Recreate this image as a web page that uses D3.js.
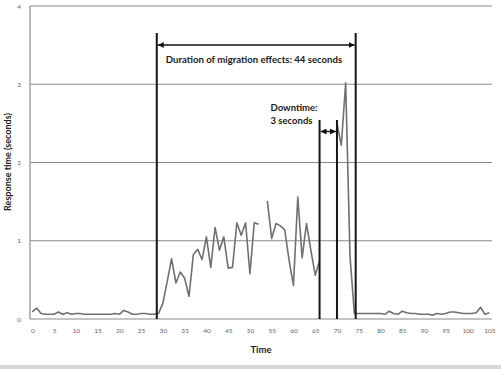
<!DOCTYPE html>
<html><head><meta charset="utf-8">
<script src="https://cdn.jsdelivr.net/npm/d3@7"></script>
<style>html,body{margin:0;padding:0;background:#fff;}svg{display:block;}</style>
</head><body>
<script>
// ---- data ----
const times = d3.range(0, 106);
const responseTime = [
 0.09,0.14,0.07,0.06,0.06,0.06,0.09,0.06,0.08,0.06,
 0.07,0.07,0.06,0.06,0.06,0.06,0.06,0.06,0.06,0.07,
 0.06,0.11,0.09,0.06,0.06,0.07,0.07,0.06,0.06,0.07,
 0.20,0.48,0.77,0.46,0.60,0.52,0.29,0.82,0.89,0.76,
 1.05,0.66,1.17,0.88,1.05,0.65,0.66,1.23,1.07,1.23,
 0.58,1.23,1.21,null,1.51,1.03,1.22,1.19,1.14,0.75,
 0.43,1.56,0.78,1.22,0.88,0.56,0.74,null,null,null,
 2.50,2.22,3.02,0.80,0.07,0.07,0.07,0.07,0.07,0.07,
 0.07,0.06,0.10,0.07,0.06,0.10,0.08,0.07,0.07,0.06,
 0.06,0.06,0.05,0.07,0.06,0.07,0.09,0.09,0.08,0.07,
 0.07,0.07,0.08,0.15,0.06,0.08
];
const xTicks = d3.range(0, 106, 5);
const yTicks = [0, 1, 2, 3, 4];
const migrationBounds = [28.6, 74.3];
const downtimeBounds = [66, 70];
const migrationLabel = "Duration of migration effects: 44 seconds";
const downtimeLabel = ["Downtime:", "3 seconds"];
const xTitle = "Time";
const yTitle = "Response time (seconds)";

// ---- layout ----
const W = 501, H = 369;
const svg = d3.select("body").append("svg").attr("width", W).attr("height", H);
const x = d3.scaleLinear().domain([0, 105]).range([32.3, 489.3]);
const y = d3.scaleLinear().domain([0, 4]).range([319, 6]);
const plotL = 30, plotR = 492;
const font = "Lato, 'Open Sans', sans-serif";

svg.append("rect").attr("x", 0).attr("y", 0).attr("width", W).attr("height", H).attr("fill", "#fff");
svg.append("rect").attr("x", 0).attr("y", 365).attr("width", W).attr("height", 4).attr("fill", "#d8d8d8");

const defs = svg.append("defs");
defs.append("marker").attr("id", "arr").attr("viewBox", "0 0 10 10")
  .attr("refX", 10).attr("refY", 5).attr("markerWidth", 6).attr("markerHeight", 6)
  .attr("markerUnits", "userSpaceOnUse").attr("orient", "auto-start-reverse")
  .append("path").attr("d", "M0,0 L10,5 L0,10 Z").attr("fill", "#111");

// gridlines
svg.append("g").selectAll("line").data(yTicks.filter(d => d > 0)).join("line")
  .attr("x1", plotL).attr("x2", plotR).attr("y1", d => y(d)).attr("y2", d => y(d))
  .attr("stroke", "#8a8a8a").attr("stroke-width", 1);
// axes lines
svg.append("line").attr("x1", plotL).attr("x2", plotL).attr("y1", y(4)).attr("y2", y(0))
  .attr("stroke", "#8a8a8a").attr("stroke-width", 1.2);
svg.append("line").attr("x1", plotL).attr("x2", plotR).attr("y1", y(0)).attr("y2", y(0))
  .attr("stroke", "#8a8a8a").attr("stroke-width", 1.2);

// x axis tick labels
const xAxis = d3.axisBottom(x).tickValues(xTicks).tickSize(0).tickPadding(9).tickFormat(d3.format("d"));
const gx = svg.append("g").attr("transform", `translate(0,${y(0)})`).call(xAxis);
gx.select(".domain").remove();
gx.selectAll("text").attr("font-family", font).attr("font-size", 6.5).attr("fill", "#666");

// y axis tick labels
const yAxis = d3.axisLeft(y).tickValues(yTicks).tickSize(0).tickPadding(9).tickFormat(d3.format("d"));
const gy = svg.append("g").attr("transform", `translate(${plotL},0)`).call(yAxis);
gy.select(".domain").remove();
gy.selectAll("text").attr("font-family", font).attr("font-size", 6.5).attr("fill", "#666");

// axis titles
svg.append("text").attr("x", 261).attr("y", 353).attr("text-anchor", "middle")
  .attr("font-family", font).attr("font-weight", "bold").attr("font-size", 9.5).attr("fill", "#222").text(xTitle);
svg.append("text").attr("transform", "translate(10.5,162) rotate(-90)").attr("text-anchor", "middle")
  .attr("font-family", font).attr("font-weight", "bold").attr("font-size", 9).attr("fill", "#222").text(yTitle);

// data line
const pts = times.map((t, i) => ({t, v: responseTime[i]}));
const line = d3.line().defined(d => d.v !== null).x(d => x(d.t)).y(d => y(d.v));
svg.append("path").datum(pts).attr("d", line).attr("fill", "none")
  .attr("stroke", "#707070").attr("stroke-width", 1.6).attr("stroke-linejoin", "round");

// migration bounds
const vTop = 33;
svg.append("g").selectAll("line").data(migrationBounds).join("line")
  .attr("x1", d => x(d)).attr("x2", d => x(d)).attr("y1", vTop).attr("y2", y(0))
  .attr("stroke", "#151515").attr("stroke-width", 2);
svg.append("line").attr("x1", x(migrationBounds[0]) + 1).attr("x2", x(migrationBounds[1]) - 1)
  .attr("y1", 45).attr("y2", 45).attr("stroke", "#111").attr("stroke-width", 1.4)
  .attr("marker-start", "url(#arr)").attr("marker-end", "url(#arr)");
svg.append("text").attr("x", 254).attr("y", 62.5)
  .attr("text-anchor", "middle").attr("font-family", font).attr("font-weight", "bold")
  .attr("font-size", 9.6).attr("fill", "#1a1a1a").text(migrationLabel);

// downtime bounds
const dTop = 120;
svg.append("g").selectAll("line").data(downtimeBounds).join("line")
  .attr("x1", d => x(d)).attr("x2", d => x(d)).attr("y1", dTop).attr("y2", y(0))
  .attr("stroke", "#151515").attr("stroke-width", 2);
svg.append("line").attr("x1", x(downtimeBounds[0]) + 1).attr("x2", x(downtimeBounds[1]) - 1)
  .attr("y1", 131.5).attr("y2", 131.5).attr("stroke", "#111").attr("stroke-width", 1.4)
  .attr("marker-start", "url(#arr)").attr("marker-end", "url(#arr)");
svg.append("g").selectAll("text").data(downtimeLabel).join("text")
  .attr("x", 270.5).attr("y", (d, i) => 111 + i * 13)
  .attr("font-family", font).attr("font-weight", "bold").attr("font-size", 9.5).attr("fill", "#1a1a1a")
  .text(d => d);
</script>
</body></html>
